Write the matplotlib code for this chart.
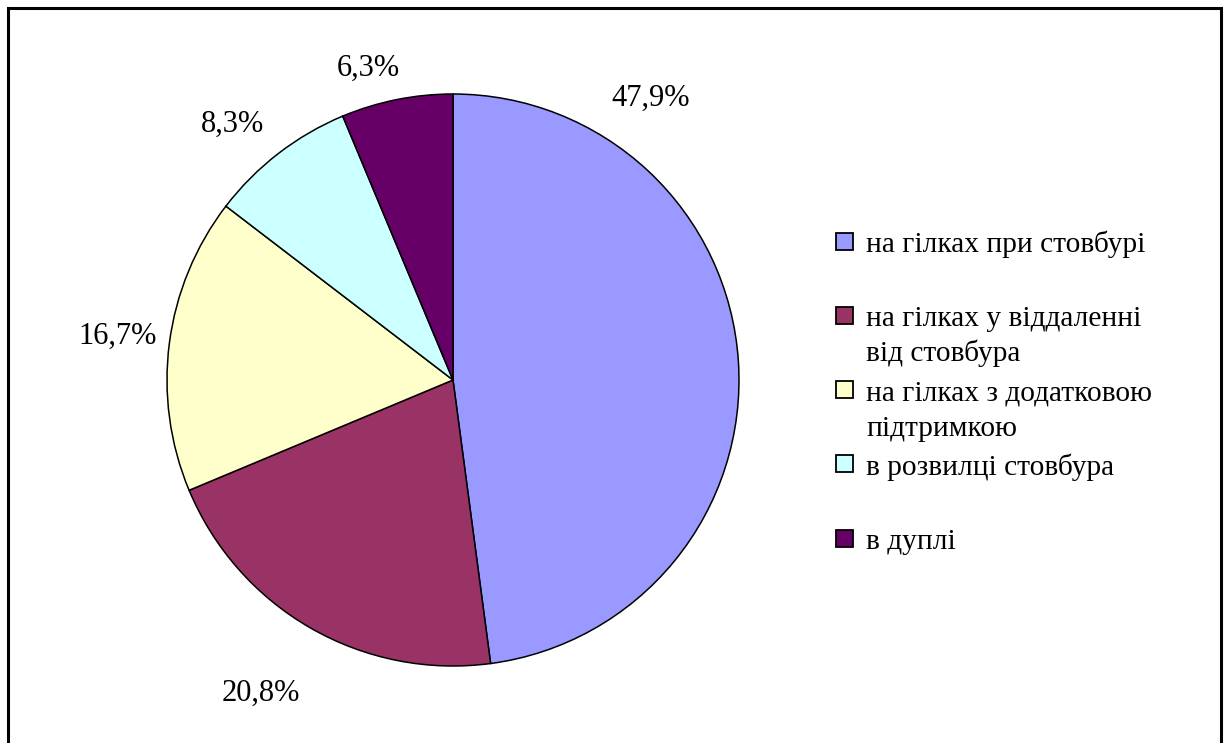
import matplotlib
matplotlib.use("Agg")
import matplotlib.pyplot as plt
from matplotlib.patches import Rectangle

# Data
categories = [
    "на гілках при стовбурі",
    "на гілках у віддаленні\nвід стовбура",
    "на гілках з додатковою\nпідтримкою",
    "в розвилці стовбура",
    "в дуплі",
]
values = [47.9, 20.8, 16.7, 8.3, 6.3]
colors = ["#9999FF", "#993366", "#FFFFCC", "#CCFFFF", "#660066"]

# Layout (pixel coordinates, y measured from top)
W, H = 1227, 743
pie_center = (453, 380)
pie_radius = 286
label_pos = [(651, 98), (261, 693), (118, 336), (232, 124), (368, 68)]
legend_sq_x = 836
legend_sq_size = 17
legend_text_x = 866
legend_first_y = 241
legend_step = 74.3
baseline_offset = 11
line_gap = 35

plt.rcParams['font.family'] = ['Liberation Serif', 'DejaVu Serif']
FS = 22
LFS = 21.2

fig = plt.figure(figsize=(W / 100, H / 100), dpi=100)
ax = fig.add_axes([0, 0, 1, 1])

ax.pie(values, colors=colors, startangle=90, counterclock=False,
       center=(pie_center[0], H - pie_center[1]), radius=pie_radius,
       wedgeprops=dict(edgecolor="black", linewidth=1.1), frame=True)

for v, (x, y) in zip(values, label_pos):
    ax.text(x, H - y, f"{v:.1f}%".replace(".", ","), fontsize=FS,
            ha="center", va="center", color="black")

# Legend
for i, (cat, col) in enumerate(zip(categories, colors)):
    yc = legend_first_y + legend_step * i
    ax.add_patch(Rectangle((legend_sq_x, H - yc - legend_sq_size / 2),
                           legend_sq_size, legend_sq_size,
                           facecolor=col, edgecolor="black", linewidth=1.3))
    for j, line in enumerate(cat.split("\n")):
        ax.text(legend_text_x, H - (yc + baseline_offset + j * line_gap), line,
                fontsize=LFS, ha="left", va="baseline", color="black")

# Outer frame
ax.add_patch(Rectangle((7.5, -20), 1213, H - 7.5 + 20, facecolor="none",
                       edgecolor="black", linewidth=2.2))

ax.set_xlim(0, W)
ax.set_ylim(0, H)
ax.set_aspect("auto")
ax.axis("off")

fig.savefig("out.png", dpi=100)
